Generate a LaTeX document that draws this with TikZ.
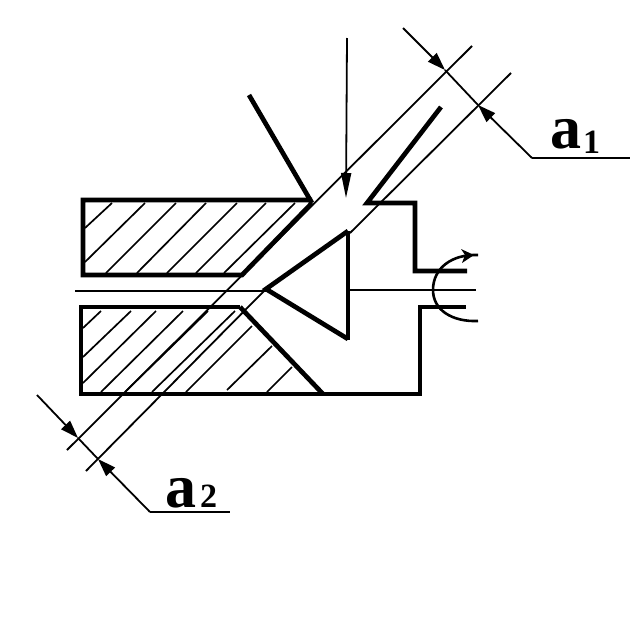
\documentclass[tikz,border=0pt]{standalone}
\usepackage{fontspec}
\setmainfont{Liberation Serif}
\usetikzlibrary{arrows.meta}
\tikzset{
  thickline/.style={line width=4.7pt,line join=miter,line cap=butt},
  thinline/.style={line width=1.8pt},
  hatchline/.style={line width=1.7pt},
  dimarrow/.style={line width=1.8pt,-{Triangle[length=18pt,width=12pt]}},
  bigletter/.style={inner sep=0pt,anchor=base west,font=\fontsize{62}{62}\selectfont\bfseries},
  smalldigit/.style={inner sep=0pt,anchor=base west,font=\fontsize{34}{34}\selectfont\bfseries}
}
\begin{document}
\begin{tikzpicture}[x=1pt,y=-1pt]
\useasboundingbox (0,0) rectangle (635,635);
\fill[white] (0,0) rectangle (635,635);
% hatching upper
\draw[hatchline] (85,228)--(112,203) (85,262)--(145,203) (106,273)--(176,203) (137,273)--(206,203)
  (167,273)--(237,203) (196,273)--(266,203) (224,273)--(295,203);
% hatching lower
\draw[hatchline] (83,328)--(101,311) (83,357)--(131,311) (83,383)--(156,311) (101,392)--(183,311)
  (125,392)--(208,311) (152,392)--(235,311) (186,392)--(252,326) (227,390)--(272,346) (267,392)--(292,367);
% long thin lines
\draw[thinline] (472,46)--(67,450);
\draw[thinline] (511,73)--(350,233);
\draw[thinline] (264,291)--(86,471);
% axis
\draw[thinline] (75,291)--(266,291);
\draw[thinline] (350,290)--(476,290);
% bodies
\draw[thickline] (312,200)--(83,200)--(83,275)--(242,275)--(312,203);
\draw[thickline] (249,95)--(312,203);
\draw[thickline] (240,307)--(81,307)--(81,394)--(420,394)--(420,307)--(466,307);
\draw[thickline] (240,307)--(323,394);
\draw[thickline] (441,107)--(367,203)--(415,203)--(415,271)--(467,271);
% cone
\draw[thickline] (348,231)--(266,289)--(348,339);
\draw[thickline] (348,231)--(348,340);
% rotation arrow
\draw[line width=2.6pt] (478,255) .. controls (452,254) and (433,268) .. (433,290) .. controls (433,310) and (452,322) .. (478,321);
\fill (461,249)--(474,255)--(462,263)--(465,255)--cycle;
% flow arrow
\draw[thinline,-{Triangle[length=25pt,width=10pt]}] (347,38)--(346,198);
% dimension a1
\draw[dimarrow] (403,28)--(445,70);
\draw[thinline] (445,70)--(478,105);
\draw[dimarrow] (532,158)--(478,105);
\draw[thinline] (532,158)--(630,158);
\node[bigletter] (a1) at (550,148) {a};
\node[smalldigit] (i1) at (583,153) {1};
% dimension a2
\draw[dimarrow] (37,395)--(78,438);
\draw[thinline] (78,438)--(98,459);
\draw[dimarrow] (150,512)--(98,459);
\draw[thinline] (150,512)--(230,512);
\node[bigletter] (a2) at (165,507) {a};
\node[smalldigit] (i2) at (200,507) {2};
\end{tikzpicture}
\end{document}
